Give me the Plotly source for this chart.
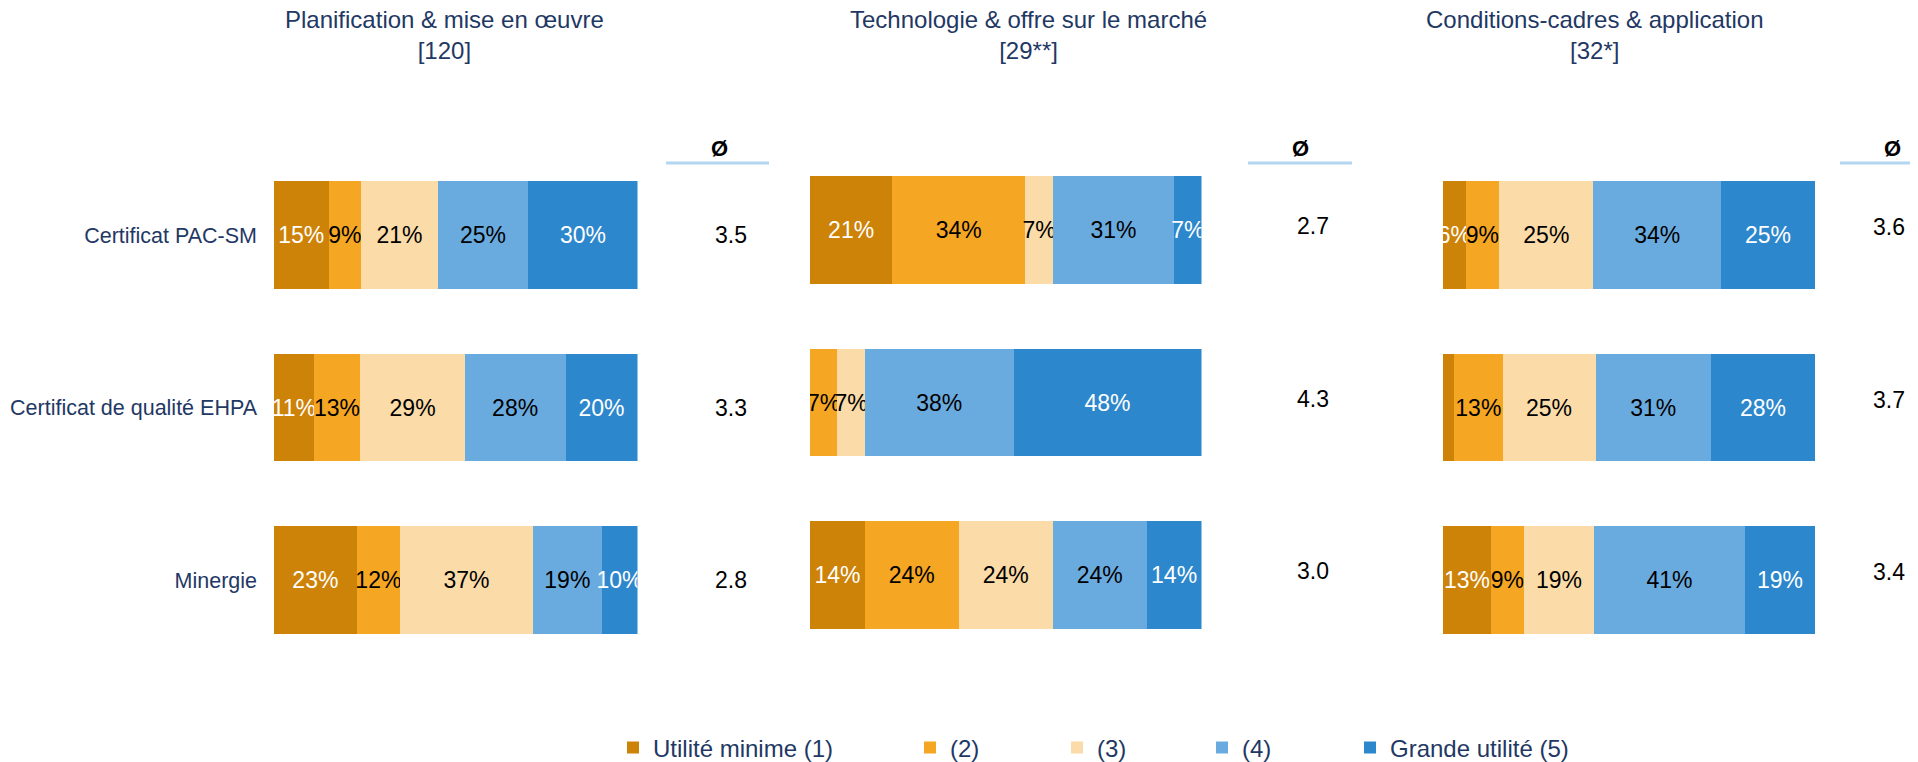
import plotly.graph_objects as go

# ---------------- data ----------------
categories = ["Certificat PAC-SM", "Certificat de qualité EHPA", "Minergie"]
panel_titles = ["Planification & mise en œuvre<br>[120]",
                "Technologie & offre sur le marché<br>[29**]",
                "Conditions-cadres & application<br>[32*]"]
level_names = ["Utilité minime (1)", "(2)", "(3)", "(4)", "Grande utilité (5)"]

# shares in % per level (1..5), one list per category row
planification = [[15, 9, 21, 25, 30],
                 [11, 13, 29, 28, 20],
                 [23, 12, 37, 19, 10]]
technologie = [[21, 34, 7, 31, 7],
               [0, 7, 7, 38, 48],
               [14, 24, 24, 24, 14]]
conditions = [[6, 9, 25, 34, 25],
              [3, 13, 25, 31, 28],
              [13, 9, 19, 41, 19]]

avg_planification = [3.5, 3.3, 2.8]
avg_technologie = [2.7, 4.3, 3.0]
avg_conditions = [3.6, 3.7, 3.4]

panels = [planification, technologie, conditions]
averages = [avg_planification, avg_technologie, avg_conditions]

# ---------------- style ----------------
OFF = 8                      # page body margin
W, H = 1918 - 2 * OFF, 762 - OFF


def px(x):
    return min(max((x - OFF) / W, 0), 1)


def py(y):
    return (H - (y - OFF)) / H


FONT = "Liberation Sans, Arial, sans-serif"
NAVY = "#1F3864"
colors = ["#CD8208", "#F5A623", "#FBDBA8", "#6AABDF", "#2D87CC"]
text_colors = ["white", "black", "black", "black", "white"]

x_dom_px = [(274, 637.5), (810, 1201.5), (1443, 1815)]
y_dom_px = [(148.75, 666.25), (143.75, 661.25), (148.75, 666.25)]
title_cx = [444.5, 1028.5, 1594.5]
avg_cx = [731, 1313, 1889]
avg_yshift = [0, 4, 8]
oe_cx = [719, 1300, 1892]
oe_line = [(666, 769), (1248, 1352), (1840, 1918)]

legend_text_x = [653, 950, 1097, 1242, 1390]

fig = go.Figure()

for p, data in enumerate(panels):
    xa = "x" if p == 0 else f"x{p+1}"
    ya = "y" if p == 0 else f"y{p+1}"
    totals = [sum(r) for r in data]
    for k in range(5):
        vals = [row[k] for row in data]
        xs = [v / t * 100 for v, t in zip(vals, totals)]
        txt = [f"{v}%" if v >= 5 else "" for v in vals]
        fig.add_trace(go.Bar(
            y=categories, x=xs, orientation="h",
            xaxis=xa, yaxis=ya,
            name=level_names[k],
            legend="legend" if k == 0 else f"legend{k+1}",
            showlegend=(p == 0),
            marker=dict(color=colors[k], line=dict(width=0)),
            text=txt, textposition="inside", insidetextanchor="middle",
            textangle=0, constraintext="none",
            textfont=dict(family=FONT, size=23, color=text_colors[k]),
            hoverinfo="skip",
        ))

layout = dict(
    width=W, height=H,
    margin=dict(l=0, r=0, t=0, b=0, autoexpand=False),
    paper_bgcolor="white", plot_bgcolor="white",
    barmode="stack", bargap=0.374,
    font=dict(family=FONT, color=NAVY),
)

for p in range(3):
    sx = "" if p == 0 else str(p + 1)
    x0, x1 = x_dom_px[p]
    ytop, ybot = y_dom_px[p]
    layout[f"xaxis{sx}"] = dict(domain=[px(x0), px(x1)], range=[0, 100],
                                anchor=f"y{sx}", showgrid=False, zeroline=False,
                                showticklabels=False, showline=False, fixedrange=True,
                                automargin=False)
    layout[f"yaxis{sx}"] = dict(domain=[py(ybot), py(ytop)],
                                anchor=f"x{sx}", range=[2.5, -0.5],
                                showgrid=False, zeroline=False, showline=False,
                                showticklabels=(p == 0), ticks="",
                                ticklabelstandoff=16, automargin=False,
                                tickfont=dict(family=FONT, size=21.5, color=NAVY),
                                fixedrange=True)

# legends (one per level, positioned individually)
for k in range(5):
    key = "legend" if k == 0 else f"legend{k+1}"
    layout[key] = dict(orientation="h", x=px(legend_text_x[k] - 40), xanchor="left",
                       y=py(748), yanchor="middle", bgcolor="rgba(0,0,0,0)",
                       font=dict(family=FONT, size=24, color=NAVY),
                       itemwidth=30, tracegroupgap=0)

annotations = []
shapes = []
for p in range(3):
    sx = "" if p == 0 else str(p + 1)
    annotations.append(dict(text=panel_titles[p], x=px(title_cx[p]), y=py(35),
                            xref="paper", yref="paper", xanchor="center", yanchor="middle",
                            showarrow=False, font=dict(family=FONT, size=24, color=NAVY)))
    annotations.append(dict(text="<b>Ø</b>", x=px(oe_cx[p]), y=py(148),
                            xref="paper", yref="paper", xanchor="center", yanchor="middle",
                            showarrow=False, font=dict(family=FONT, size=22, color="black")))
    shapes.append(dict(type="line", xref="paper", yref="paper",
                       x0=px(oe_line[p][0]), x1=px(oe_line[p][1]),
                       y0=py(163), y1=py(163),
                       line=dict(color="#B4D6F0", width=3)))
    for i, cat in enumerate(categories):
        annotations.append(dict(text=f"{averages[p][i]:.1f}", x=px(avg_cx[p]), y=cat,
                                xref="paper", yref=f"y{sx}", xanchor="center", yanchor="middle",
                                yshift=avg_yshift[p], showarrow=False,
                                font=dict(family=FONT, size=23, color="black")))

layout["annotations"] = annotations
layout["shapes"] = shapes
fig.update_layout(**layout)

fig.write_html("out.html")
